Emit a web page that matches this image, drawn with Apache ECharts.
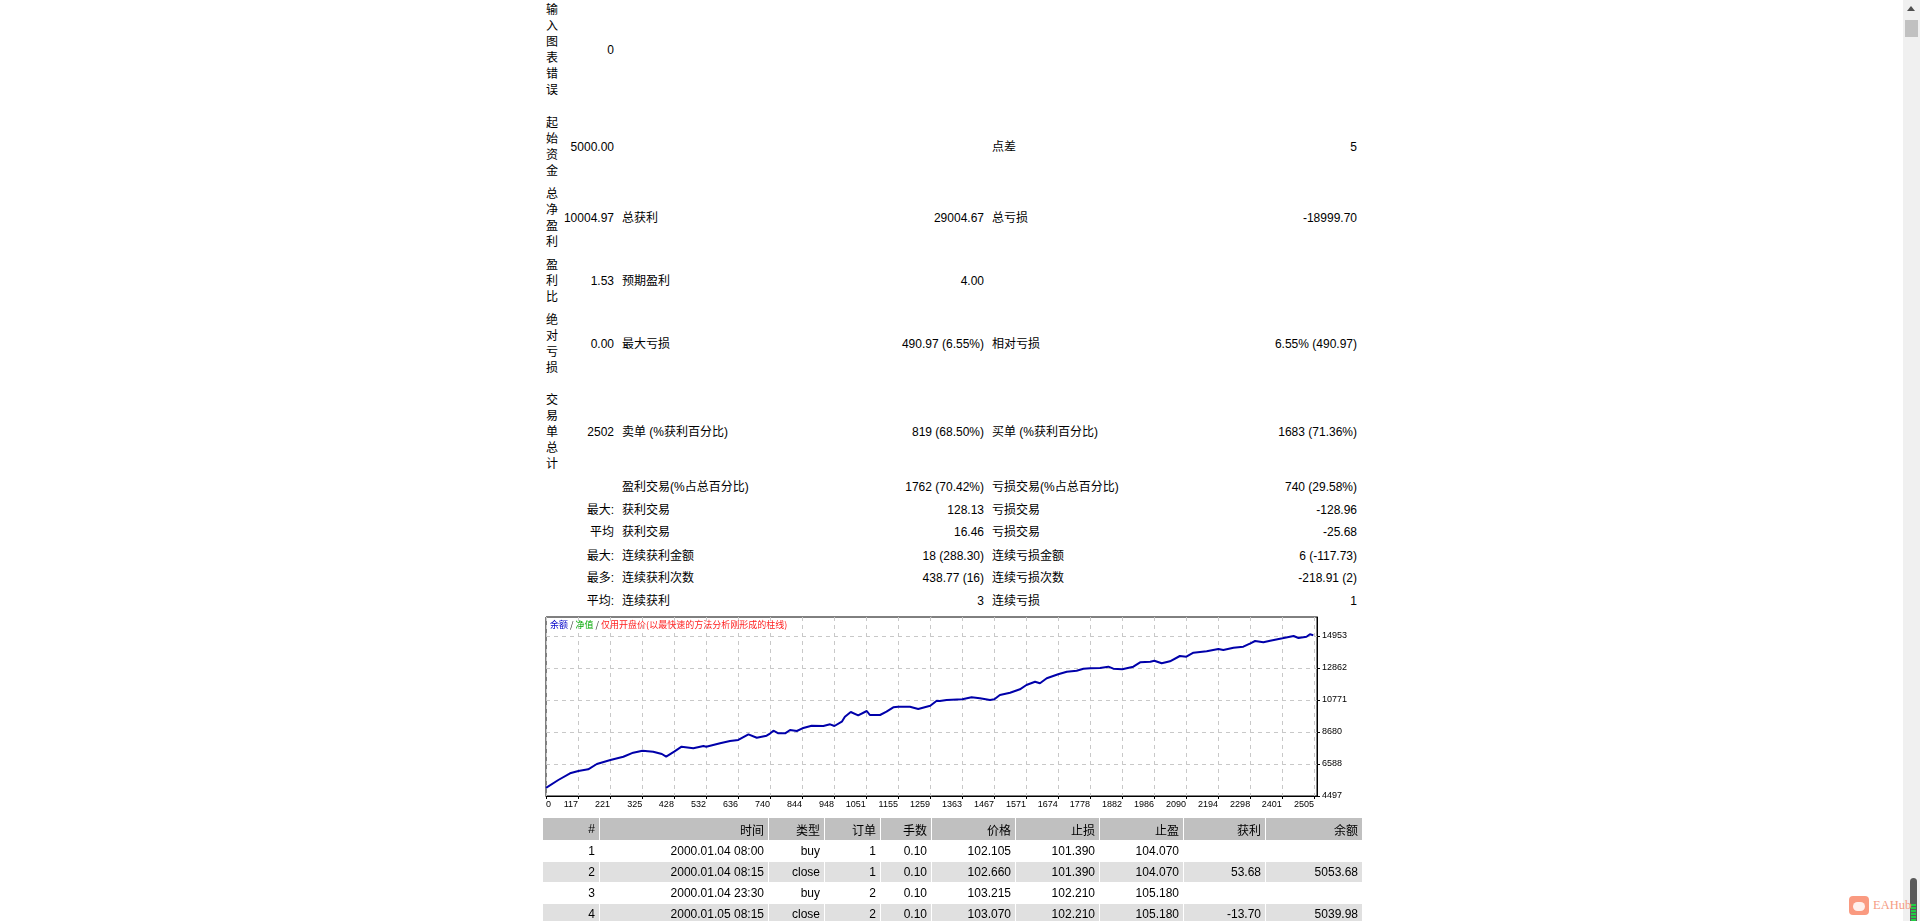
<!DOCTYPE html>
<html>
<head>
<meta charset="utf-8">
<title>Strategy Tester Report</title>
<script src="https://cdn.jsdelivr.net/npm/echarts@6/dist/echarts.min.js"></script>
<style>
  html, body { margin: 0; padding: 0; width: 1920px; height: 921px; overflow: hidden; background: #fff; }
  body { font-family: "Liberation Sans", "Noto Sans CJK SC", sans-serif; font-size: 12px; color: #000; position: relative; }
  .cell { position: absolute; white-space: nowrap; line-height: 16px; transform: translateY(-50%); }
  .vlab { position: absolute; left: 546px; width: 12px; white-space: normal; word-break: break-all; line-height: 16px; transform: translateY(-50%); }
  #chart { position: absolute; left: 540px; top: 610px; width: 830px; height: 210px; }
  #trades { position: absolute; left: 542px; top: 817px; border-collapse: separate; border-spacing: 1px; table-layout: fixed; }
  #trades td { height: 20px; padding: 0 4px 0 0; text-align: right; white-space: nowrap; overflow: hidden; }
  #trades tr.head td { background: #c0c0c0; height: 22px; }
  #trades tr.even td { background: #e0e0e0; }
  #scroll { position: absolute; left: 1903px; top: 0; width: 17px; height: 921px; background: #f0f0f0; }
  #scroll .up { position: absolute; left: 4px; top: 6px; width: 0; height: 0; border-left: 4px solid transparent; border-right: 4px solid transparent; border-bottom: 5px solid #505050; }
  #scroll .thumb { position: absolute; left: 2px; top: 20px; width: 13px; height: 17px; background: #c1c1c1; }
  #scroll .dark { position: absolute; left: 7px; top: 878px; width: 7px; height: 43px; background: #5a5a5a; border-radius: 4px 4px 0 0; overflow: hidden; }
  #scroll .green { position: absolute; left: 1px; top: 26px; width: 5px; height: 17px;
    background: repeating-linear-gradient(#22cc44 0 2px, #5a5a5a 2px 3px); }
  #logo { position: absolute; left: 1849px; top: 896px; width: 20px; height: 19px; background: #fa9a80; border-radius: 4px; }
  #logo .face { position: absolute; left: 4px; top: 6px; width: 12px; height: 9px; background: #fff; border-radius: 5px; opacity: .85; }
  #logoText { position: absolute; left: 1873px; top: 896px; font-family: "Liberation Serif", serif; font-size: 12.5px; line-height: 19px; color: #f59c84; }
</style>
</head>
<body>
<div id="stats"></div>
<div id="chart"></div>
<table id="trades"></table>
<div id="scroll"><div class="up"></div><div class="thumb"></div><div class="dark"><div class="green"></div></div></div>
<div id="logo"><div class="face"></div></div>
<div id="logoText">EAHub</div>
<script>
// ---- report summary (text) ----
const statRows = [
  ['输入图表错误', '0', '', '', '', ''],
  ['起始资金', '5000.00', '', '', '点差', '5'],
  ['总净盈利', '10004.97', '总获利', '29004.67', '总亏损', '-18999.70'],
  ['盈利比', '1.53', '预期盈利', '4.00', '', ''],
  ['绝对亏损', '0.00', '最大亏损', '490.97 (6.55%)', '相对亏损', '6.55% (490.97)'],
  ['交易单总计', '2502', '卖单 (%获利百分比)', '819 (68.50%)', '买单 (%获利百分比)', '1683 (71.36%)'],
  ['', '', '盈利交易(%占总百分比)', '1762 (70.42%)', '亏损交易(%占总百分比)', '740 (29.58%)'],
  ['', '最大:', '获利交易', '128.13', '亏损交易', '-128.96'],
  ['', '平均', '获利交易', '16.46', '亏损交易', '-25.68'],
  ['', '最大:', '连续获利金额', '18 (288.30)', '连续亏损金额', '6 (-117.73)'],
  ['', '最多:', '连续获利次数', '438.77 (16)', '连续亏损次数', '-218.91 (2)'],
  ['', '平均:', '连续获利', '3', '连续亏损', '1'],
]

// ---- balance curve: trade number / balance ----
const tradeNo = [13, 53, 91, 118, 150, 178, 222, 264, 296, 326, 361, 389, 403, 429, 453, 491, 524, 533,
  578, 610, 637, 670, 697, 729, 741, 751, 767, 789, 805, 827, 845, 875, 913, 935, 949, 973, 983, 1002,
  1026, 1054, 1064, 1097, 1118, 1140, 1156, 1194, 1221, 1260, 1281, 1291, 1313, 1364, 1394, 1421, 1454,
  1468, 1486, 1519, 1551, 1572, 1600, 1616, 1638, 1675, 1703, 1735, 1757, 1779, 1811, 1838, 1854, 1883,
  1919, 1941, 1974, 1987, 2011, 2038, 2070, 2091, 2114, 2157, 2195, 2211, 2244, 2276, 2299, 2314, 2341,
  2363, 2403, 2439, 2455, 2481, 2492, 2503]
const balance = [5030, 5543, 5980, 6131, 6242, 6588, 6850, 7065, 7327, 7457, 7392, 7242, 7065, 7392, 7719, 7614, 7764, 7719,
  7941, 8091, 8157, 8529, 8307, 8438, 8594, 8764, 8594, 8594, 8810, 8745, 8921, 9091, 9072, 9182, 9072, 9352, 9679, 9986,
  9771, 10052, 9790, 9790, 10006, 10294, 10333, 10333, 10183, 10398, 10725, 10706, 10771, 10816, 10947, 10882, 10771,
  10816, 11097, 11248, 11470, 11750, 11966, 11862, 12189, 12450, 12621, 12686, 12817, 12842, 12862, 12949, 12817, 12777,
  12949, 13234, 13274, 13339, 13169, 13300, 13646, 13600, 13862, 13953, 14104, 14038, 14189, 14254, 14476, 14627, 14542,
  14646, 14803, 14953, 14823, 14908, 15064, 15005]

const xTicks = [13, 117, 221, 325, 428, 532, 636, 740, 844, 948, 1051, 1155, 1259, 1363, 1467, 1571,
  1674, 1778, 1882, 1986, 2090, 2194, 2298, 2401, 2505]
const xTickLabels = ['0', '117', '221', '325', '428', '532', '636', '740', '844', '948', '1051', '1155', '1259', '1363',
  '1467', '1571', '1674', '1778', '1882', '1986', '2090', '2194', '2298', '2401', '2505']
const yTicks = [4497, 6588, 8680, 10771, 12862, 14953]

// ---- trade list ----
const tradeHeader = ['#', '时间', '类型', '订单', '手数', '价格', '止损', '止盈', '获利', '余额']
const tradeRows = [
  ['1', '2000.01.04 08:00', 'buy', '1', '0.10', '102.105', '101.390', '104.070', '', ''],
  ['2', '2000.01.04 08:15', 'close', '1', '0.10', '102.660', '101.390', '104.070', '53.68', '5053.68'],
  ['3', '2000.01.04 23:30', 'buy', '2', '0.10', '103.215', '102.210', '105.180', '', ''],
  ['4', '2000.01.05 08:15', 'close', '2', '0.10', '103.070', '102.210', '105.180', '-13.70', '5039.98'],
]

// layout of the summary block
const rowCenters = [50, 147, 218, 281, 344, 432, 487, 510, 532, 556, 578, 601]
const valueRight = [614, 984, 1357]
const labelLeft = [622, 992]
const colWidths = [56, 168, 55, 55, 50, 83, 83, 83, 81, 96]

function buildStats() {
  const box = document.getElementById('stats')
  statRows.forEach((row, i) => {
    const y = rowCenters[i]
    if (row[0]) {
      const d = document.createElement('div')
      d.className = 'vlab'
      d.style.top = y + 'px'
      d.textContent = row[0]
      box.appendChild(d)
    }
    ;[1, 3, 5].forEach((c, k) => {
      if (!row[c]) return
      const d = document.createElement('div')
      d.className = 'cell'
      d.style.top = y + 'px'
      d.style.right = (1920 - valueRight[k]) + 'px'
      d.textContent = row[c]
      box.appendChild(d)
    })
    ;[2, 4].forEach((c, k) => {
      if (!row[c]) return
      const d = document.createElement('div')
      d.className = 'cell'
      d.style.top = y + 'px'
      d.style.left = labelLeft[k] + 'px'
      d.textContent = row[c]
      box.appendChild(d)
    })
  })
}

function buildTrades() {
  const table = document.getElementById('trades')
  const colgroup = document.createElement('colgroup')
  colWidths.forEach(w => {
    const col = document.createElement('col')
    col.style.width = w + 'px'
    colgroup.appendChild(col)
  })
  table.appendChild(colgroup)
  const addRow = (cells, cls) => {
    const tr = document.createElement('tr')
    if (cls) tr.className = cls
    cells.forEach(t => {
      const td = document.createElement('td')
      td.textContent = t
      tr.appendChild(td)
    })
    table.appendChild(tr)
  }
  addRow(tradeHeader, 'head')
  tradeRows.forEach((r, i) => addRow(r, i % 2 === 1 ? 'even' : ''))
}

function buildOption() {
  return {
    animation: false,
    title: {
      text: '{b|余额} {s|/} {g|净值} {s|/} {r|仅用开盘价(以最快速的方法分析刚形成的柱线)}',
      left: 10,
      top: 10,
      padding: 0,
      textStyle: {
        fontSize: 9,
        fontWeight: 'normal',
        fontFamily: 'Noto Sans CJK SC',
        rich: {
          b: { color: '#0000c8', fontSize: 9 },
          g: { color: '#00a800', fontSize: 9 },
          r: { color: '#ff2020', fontSize: 9 },
          s: { color: '#333333', fontSize: 9 },
        },
      },
    },
    grid: {
      left: 6,
      top: 7,
      width: 771,
      height: 179,
      show: true,
      borderColor: '#000',
      borderWidth: 1,
      backgroundColor: '#fff',
    },
    xAxis: {
      type: 'value',
      min: 13,
      max: 2515,
      axisLine: { show: true, lineStyle: { color: '#000', width: 1 } },
      axisTick: { show: true, length: 3, lineStyle: { color: '#000' }, customValues: xTicks },
      axisLabel: {
        customValues: xTicks,
        formatter: v => {
          const i = xTicks.indexOf(v)
          return i >= 0 ? xTickLabels[i] : String(v)
        },
        fontSize: 9,
        fontFamily: 'Liberation Sans',
        color: '#000',
        margin: 4,
        align: 'right',
        alignMinLabel: 'left',
      },
      splitLine: { show: true, lineStyle: { color: '#c8c8c8', type: [4, 4], width: 1 } },
    },
    yAxis: {
      type: 'value',
      position: 'right',
      min: 4497,
      max: 16195,
      axisLine: { show: true, lineStyle: { color: '#000', width: 1 } },
      axisTick: { show: true, length: 3, lineStyle: { color: '#000' }, customValues: yTicks },
      axisLabel: {
        customValues: yTicks,
        formatter: v => String(Math.round(v)),
        fontSize: 9,
        fontFamily: 'Liberation Sans',
        color: '#000',
        margin: 5,
      },
      splitLine: { show: true, lineStyle: { color: '#c8c8c8', type: [4, 4], width: 1 } },
    },
    series: [
      {
        type: 'line',
        data: tradeNo.map((t, i) => [t, balance[i]]),
        showSymbol: false,
        lineStyle: { color: '#0000aa', width: 2 },
        clip: true,
      },
    ],
  }
}

buildStats()
buildTrades()
const chart = echarts.init(document.getElementById('chart'), null, { renderer: 'canvas' })
chart.setOption(buildOption())
</script>
</body>
</html>
